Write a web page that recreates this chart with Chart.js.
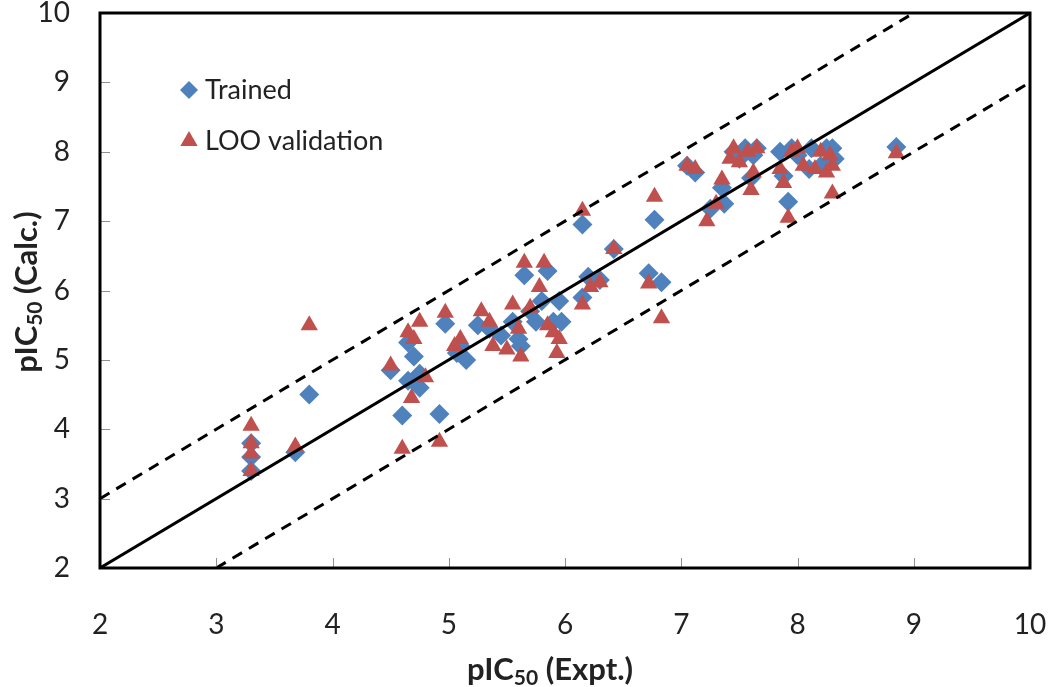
<!DOCTYPE html>
<html>
<head>
<meta charset="utf-8">
<script src="https://cdn.jsdelivr.net/npm/chart.js@4/dist/chart.umd.min.js"></script>
<style>
  html, body { margin: 0; padding: 0; background: #fff; }
  #wrap { width: 1050px; height: 687px; }
</style>
</head>
<body>
<div id="wrap"><canvas id="chart"></canvas></div>
<script>
// values (pIC50 expt, pIC50 calc)
const trainedX = [3.3, 3.3, 3.3, 3.68, 3.8, 4.5, 4.6, 4.65, 4.7, 4.75, 4.75, 4.65, 4.92, 4.97, 5.07, 5.1, 5.15,
  5.25, 5.35, 5.45, 5.55, 5.6, 5.62, 5.65, 5.7, 5.75, 5.8, 5.85, 5.9, 5.95, 5.97, 6.15, 6.15, 6.2, 6.3, 6.42,
  6.72, 6.77, 6.83, 7.05, 7.12, 7.25, 7.35, 7.37, 7.45, 7.5, 7.55, 7.6, 7.62, 7.65, 7.85, 7.88, 7.92, 7.95,
  8.0, 8.1, 8.12, 8.2, 8.25, 8.28, 8.3, 8.32, 8.85];
const trainedY = [3.4, 3.6, 3.8, 3.67, 4.5, 4.85, 4.2, 5.25, 5.05, 4.8, 4.6, 4.7, 4.22, 5.52, 5.1, 5.2, 5.0,
  5.5, 5.45, 5.35, 5.55, 5.3, 5.2, 6.22, 5.7, 5.55, 5.85, 6.28, 5.55, 5.85, 5.55, 6.95, 5.9, 6.2, 6.15, 6.6,
  6.25, 7.02, 6.12, 7.8, 7.7, 7.18, 7.48, 7.25, 8.0, 7.9, 8.05, 7.62, 7.95, 8.05, 8.0, 7.65, 7.28, 8.05,
  7.95, 7.75, 8.05, 7.8, 8.05, 7.85, 8.05, 7.9, 8.07];

const looX = [3.3, 3.3, 3.3, 3.3, 3.68, 3.8, 4.5, 4.6, 4.65, 4.7, 4.68, 4.75, 4.8, 4.92, 4.97, 5.05, 5.1,
  5.28, 5.35, 5.38, 5.5, 5.55, 5.6, 5.62, 5.65, 5.7, 5.78, 5.82, 5.85, 5.9, 5.93, 5.95, 6.15, 6.15, 6.22,
  6.3, 6.42, 6.72, 6.77, 6.83, 7.05, 7.12, 7.22, 7.3, 7.35, 7.42, 7.45, 7.5, 7.57, 7.6, 7.65, 7.62, 7.85,
  7.88, 7.92, 7.95, 8.0, 8.05, 8.15, 8.2, 8.25, 8.28, 8.3, 8.3, 8.85];
const looY = [4.05, 3.8, 3.65, 3.4, 3.75, 5.5, 4.92, 3.72, 5.4, 5.3, 4.45, 5.55, 4.75, 3.82, 5.68, 5.2, 5.3,
  5.7, 5.55, 5.2, 5.15, 5.8, 5.45, 5.05, 6.4, 5.75, 6.05, 6.4, 5.5, 5.4, 5.1, 5.3, 7.15, 5.8, 6.05,
  6.12, 6.6, 6.1, 7.35, 5.6, 7.8, 7.75, 7.0, 7.25, 7.6, 7.9, 8.05, 7.85, 8.0, 7.45, 8.05, 7.7, 7.75,
  7.55, 7.05, 8.0, 8.05, 7.8, 7.75, 8.0, 7.7, 7.95, 7.4, 7.8, 7.98];

// reference lines y = x, y = x + 1, y = x - 1
const identityLine = [[2, 2], [10, 10]];
const upperLine = [[2, 3], [9, 10]];
const lowerLine = [[3, 2], [10, 9]];

const axisMin = 2, axisMax = 10;
const tickValues = [2, 3, 4, 5, 6, 7, 8, 9, 10];

const blue = '#4F81BD';
const red = '#C0504D';
const FONT = 'Lato, "Open Sans", sans-serif';

function toPoints(xs, ys) {
  return xs.map((x, i) => ({ x: x, y: ys[i] }));
}
function pairPoints(arr) {
  return arr.map(p => ({ x: p[0], y: p[1] }));
}

// draws the box, inside tick marks, axis titles and the legend
const decorPlugin = {
  id: 'decor',
  afterDraw(chart) {
    const ctx = chart.ctx;
    const a = chart.chartArea;
    const xs = chart.scales.x, ys = chart.scales.y;
    ctx.save();

    // tick marks pointing inward
    ctx.strokeStyle = '#909090';
    ctx.lineWidth = 1;
    tickValues.forEach(v => {
      const px = Math.round(xs.getPixelForValue(v)) + 0.5;
      ctx.beginPath(); ctx.moveTo(px, a.bottom); ctx.lineTo(px, a.bottom - 10); ctx.stroke();
      const py = Math.round(ys.getPixelForValue(v)) + 0.5;
      ctx.beginPath(); ctx.moveTo(a.left, py); ctx.lineTo(a.left + 10, py); ctx.stroke();
    });

    // plot box
    ctx.strokeStyle = '#000';
    ctx.lineWidth = 3;
    ctx.strokeRect(a.left, a.top, a.right - a.left, a.bottom - a.top);

    // axis titles with subscript
    function subTitle(cx, cy, rot, pre, sub, post) {
      ctx.save();
      ctx.translate(cx, cy);
      ctx.rotate(rot);
      ctx.fillStyle = '#222';
      ctx.textBaseline = 'alphabetic';
      const big = 'bold 31px ' + FONT, small = 'bold 21px ' + FONT;
      ctx.font = big; const w1 = ctx.measureText(pre).width, w3 = ctx.measureText(post).width;
      ctx.font = small; const w2 = ctx.measureText(sub).width;
      let x = -(w1 + w2 + w3) / 2;
      ctx.font = big; ctx.textAlign = 'left'; ctx.fillText(pre, x, 0); x += w1;
      ctx.font = small; ctx.fillText(sub, x, 5); x += w2;
      ctx.font = big; ctx.fillText(post, x, 0);
      ctx.restore();
    }
    subTitle(550, 680, 0, 'pIC', '50', ' (Expt.)');
    subTitle(37, 292, -Math.PI / 2, 'pIC', '50', ' (Calc.)');

    // legend inside the plot
    const items = [
      { label: 'Trained', style: 'rectRot', color: blue, r: 9, y: 90 },
      { label: 'LOO validation', style: 'triangle', color: red, r: 10, y: 141 }
    ];
    ctx.font = '27px ' + FONT;
    ctx.textAlign = 'left';
    ctx.textBaseline = 'middle';
    items.forEach(it => {
      ctx.fillStyle = it.color;
      ctx.strokeStyle = it.color;
      Chart.helpers.drawPoint(ctx, { pointStyle: it.style, radius: it.r, borderWidth: 0 }, 189, it.y);
      ctx.fillStyle = '#222';
      ctx.fillText(it.label, 205, it.y);
    });
    ctx.restore();
  }
};

const lineStyle = {
  type: 'scatter',
  showLine: true,
  pointRadius: 0,
  pointHoverRadius: 0,
  borderColor: '#000',
  borderWidth: 3,
  fill: false,
  order: 0
};

// keep the plot box where the reference has it, whatever the label overflow
function noOverflow(s) {
  s.paddingTop = 0; s.paddingBottom = 0; s.paddingLeft = 0; s.paddingRight = 0;
}

new Chart(document.getElementById('chart'), {
  type: 'scatter',
  data: {
    datasets: [
      {
        label: 'Trained',
        data: toPoints(trainedX, trainedY),
        pointStyle: 'rectRot',
        pointRadius: 10,
        backgroundColor: blue,
        borderColor: blue,
        borderWidth: 0,
        order: 2
      },
      {
        label: 'LOO validation',
        data: toPoints(looX, looY),
        pointStyle: 'triangle',
        pointRadius: 10,
        backgroundColor: red,
        borderColor: red,
        borderWidth: 0,
        order: 1
      },
      Object.assign({ label: 'y=x', data: pairPoints(identityLine) }, lineStyle),
      Object.assign({ label: 'y=x+1', data: pairPoints(upperLine), borderDash: [11, 8] }, lineStyle),
      Object.assign({ label: 'y=x-1', data: pairPoints(lowerLine), borderDash: [11, 8] }, lineStyle)
    ]
  },
  options: {
    responsive: true,
    maintainAspectRatio: false,
    animation: false,
    layout: { padding: { top: 13, right: 20, left: 0, bottom: 0 } },
    plugins: {
      legend: { display: false },
      tooltip: { enabled: false }
    },
    scales: {
      x: {
        type: 'linear',
        min: axisMin, max: axisMax,
        afterFit(s) { s.height = 119; noOverflow(s); },
        afterBuildTicks(s) { s.ticks = tickValues.map(v => ({ value: v })); },
        grid: { display: true, drawOnChartArea: false, drawTicks: false },
        border: { display: false },
        ticks: { padding: 40, color: '#222', font: { family: FONT, size: 28 } }
      },
      y: {
        type: 'linear',
        min: axisMin, max: axisMax,
        afterFit(s) { s.width = 100; noOverflow(s); },
        afterBuildTicks(s) { s.ticks = tickValues.map(v => ({ value: v })); },
        grid: { display: true, drawOnChartArea: false, drawTicks: false },
        border: { display: false },
        ticks: { padding: 30, color: '#222', font: { family: FONT, size: 28 } }
      }
    }
  },
  plugins: [decorPlugin]
});
</script>
</body>
</html>
